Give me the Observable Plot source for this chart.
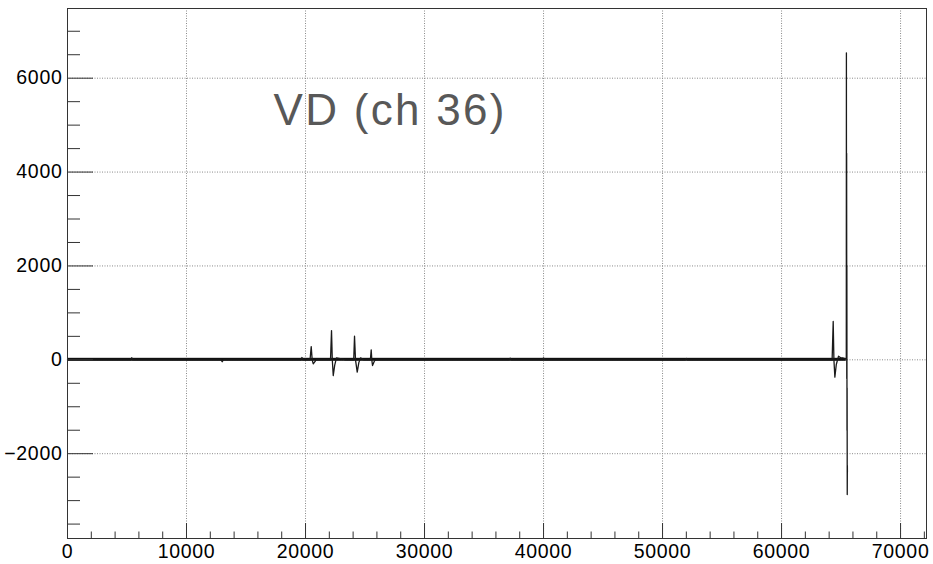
<!DOCTYPE html>
<html>
<head>
<meta charset="utf-8">
<script src="https://cdn.jsdelivr.net/npm/d3@7"></script>
<script src="https://cdn.jsdelivr.net/npm/@observablehq/plot@0.6"></script>
<style>
  html, body { margin: 0; padding: 0; background: #fff; }
  #chart { width: 933px; height: 564px; }
</style>
</head>
<body>
<div id="chart"></div>
<script>
// ---- data ----
const titleText = "VD (ch 36)";
const xDomain = [0, 72180];
const yDomain = [-3807, 7485];
const xMajor = [0, 10000, 20000, 30000, 40000, 50000, 60000, 70000];
const xMinor = [2000, 4000, 6000, 8000, 12000, 14000, 16000, 18000, 22000, 24000, 26000, 28000,
  32000, 34000, 36000, 38000, 42000, 44000, 46000, 48000, 52000, 54000, 56000, 58000,
  62000, 64000, 66000, 68000, 72000];
const yMajor = [-2000, 0, 2000, 4000, 6000];
const yMinor = [-3500, -3000, -2500, -1500, -1000, -500, 500, 1000, 1500, 2500, 3000, 3500,
  4500, 5000, 5500, 6500, 7000];

// waveform key points (sample index, ADC value)
const sampleX = [0, 5300, 5400, 5500, 12900, 13000, 13100, 19600, 19700, 19800,
  20380, 20479, 20560, 20650, 20900,
  22100, 22185, 22250, 22330, 22450, 22600, 23000, 23400,
  24050, 24118, 24200, 24345, 24480, 24620, 24900,
  25450, 25520, 25570, 25630, 25800, 25950,
  37100, 37200, 37300, 39900, 40000, 40100, 51900, 52000, 52100,
  64250, 64340, 64400, 64480, 64600, 64790, 65000, 65130, 65380,
  65440, 65450, 65460, 65470, 65480, 65490, 65500, 65510, 65520, 65530, 65535];
const sampleY = [0, 0, 45, 0, 0, -40, 0, 0, 50, 0,
  0, 283, 0, -85, 0,
  0, 624, 0, -335, -120, 40, 20, 0,
  0, 503, 0, -264, -60, 40, 0,
  0, 213, 0, -121, -20, 0,
  0, 35, 0, 0, 40, 0, 0, 30, 0,
  0, 816, 0, -370, -100, 77, 40, 40, 20,
  20, 6541, 200, 4400, -400, 2000, -1500, -600, -2870, -2250, -2400];

// baseline noise band
const bandStart = [0];
const bandEnd = [65440];
const noiseAmp = [32];

// ---- build tables ----
const wave = sampleX.map((x, i) => ({x, y: sampleY[i]}));
const band = bandStart.map((s, i) => ({x1: s, x2: bandEnd[i], y1: -noiseAmp[i], y2: noiseAmp[i]}));

// pixel geometry for tick lengths
const W = 933, H = 564, mL = 67, mR = 7, mT = 8, mB = 26;
const pxPerX = (W - mL - mR) / (xDomain[1] - xDomain[0]);
const pxPerY = (H - mT - mB) / (yDomain[1] - yDomain[0]);
const xTickMajor = 15 / pxPerY, xTickMinor = 6.5 / pxPerY;
const yTickMajor = 26 / pxPerX, yTickMinor = 13 / pxPerX;

const fmt = d => (d < 0 ? "\u2212" : "") + Math.abs(d);
const gridStyle = {stroke: "#8a8a8a", strokeOpacity: 1, strokeDasharray: "1,1.5", strokeWidth: 1};

const chart = Plot.plot({
  width: W, height: H,
  marginLeft: mL, marginRight: mR, marginTop: mT, marginBottom: mB,
  x: {domain: xDomain, axis: null},
  y: {domain: yDomain, axis: null},
  style: {fontFamily: "'Liberation Sans', Arial, Helvetica, sans-serif", background: "#fff", color: "#000"},
  marks: [
    Plot.gridX(xMajor.filter(d => d > 0), gridStyle),
    Plot.gridY(yMajor, gridStyle),
    Plot.text([titleText], {frameAnchor: "top-left", dx: 206, dy: 85, text: d => d,
      fontSize: 44, fill: "#585858", textAnchor: "start", lineAnchor: "top"}),
    Plot.rect(band, {x1: "x1", x2: "x2", y1: "y1", y2: "y2", fill: "#111"}),
    Plot.line(wave, {x: "x", y: "y", stroke: "#1a1a1a", strokeWidth: 1.3, curve: "linear"}),
    // x ticks (inside, from the bottom edge)
    Plot.ruleX(xMajor, {y1: yDomain[0], y2: yDomain[0] + xTickMajor, stroke: "#333", strokeWidth: 1}),
    Plot.ruleX(xMinor, {y1: yDomain[0], y2: yDomain[0] + xTickMinor, stroke: "#333", strokeWidth: 1}),
    // y ticks (inside, from the left edge)
    Plot.ruleY(yMajor, {x1: xDomain[0], x2: xDomain[0] + yTickMajor, stroke: "#333", strokeWidth: 1}),
    Plot.ruleY(yMinor, {x1: xDomain[0], x2: xDomain[0] + yTickMinor, stroke: "#333", strokeWidth: 1}),
    Plot.frame({stroke: "#333", strokeWidth: 1}),
    Plot.axisX(xMajor, {tickSize: 0, tickPadding: 6, fontSize: 19.5, tickFormat: fmt, fill: "#000"}),
    Plot.axisY(yMajor, {tickSize: 0, tickPadding: 5, fontSize: 19.5, tickFormat: fmt, fill: "#000"})
  ]
});

chart.querySelectorAll('g[aria-label$="tick label"] text').forEach(t => t.setAttribute("letter-spacing", "0.7"));
chart.querySelectorAll('g[aria-label="text"] text').forEach(t => t.setAttribute("letter-spacing", "2.3"));
document.getElementById("chart").appendChild(chart);
</script>
</body>
</html>
